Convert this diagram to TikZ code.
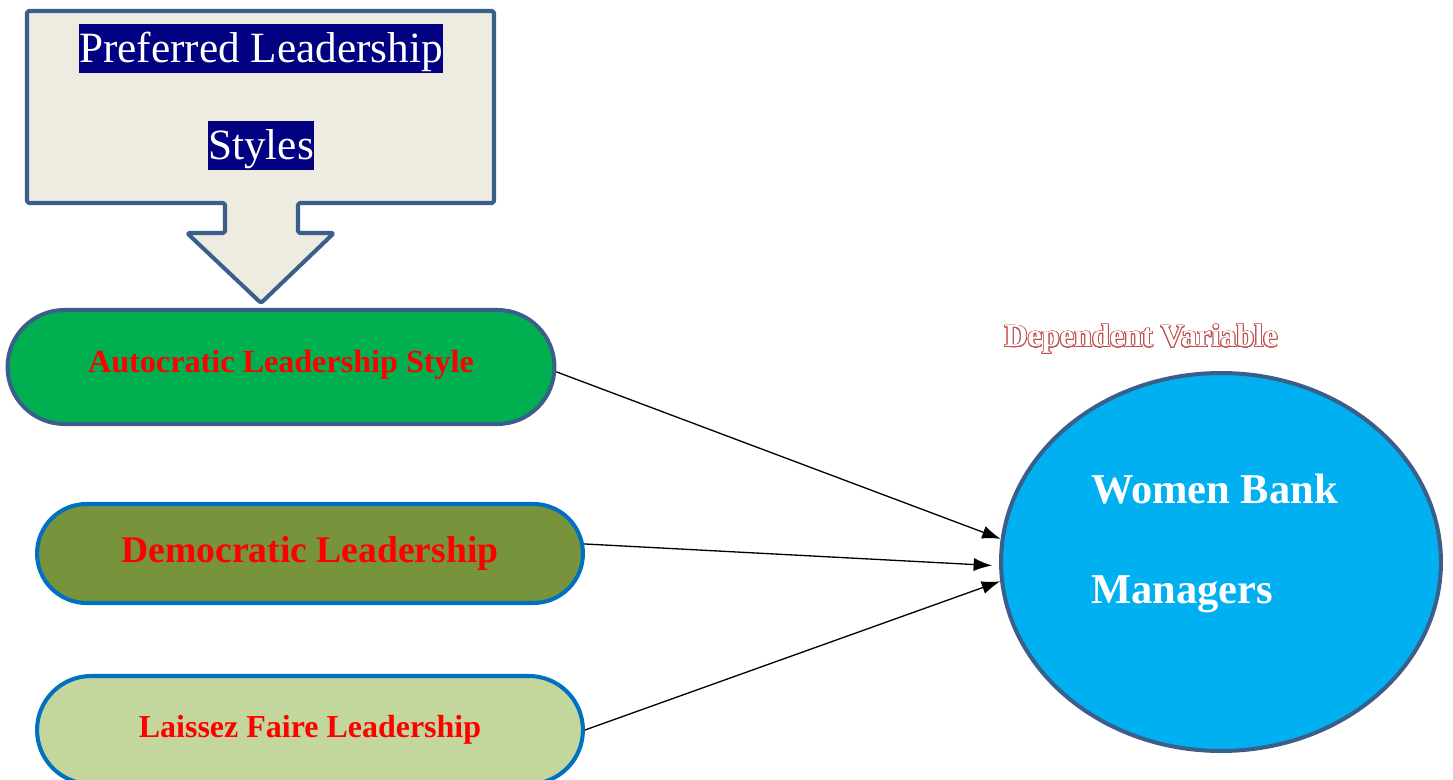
\documentclass[tikz,border=0pt]{standalone}
\usepackage{fontspec}
\setmainfont{Liberation Serif}
\usepackage{xcolor}
\usepackage{contour}
\usepackage{tikz}
\usetikzlibrary{positioning,shapes,arrows.meta}
\contourlength{0.5pt}
\contournumber{24}

\definecolor{calloutFill}{HTML}{EEECE1}
\definecolor{officeBlue}{HTML}{3A5F8B}
\definecolor{strongBlue}{HTML}{0070C0}
\definecolor{autoGreen}{HTML}{00B050}
\definecolor{oliveGreen}{HTML}{77933C}
\definecolor{paleGreen}{HTML}{C3D69B}
\definecolor{skyBlue}{HTML}{00B0F0}
\definecolor{titleNavy}{HTML}{000080}
\definecolor{depRed}{HTML}{C0504D}
\newcommand*{\navybox}[1]{{\setlength{\fboxsep}{0pt}\colorbox{titleNavy}{\rule[-0.23em]{0pt}{1.13em}#1}}}

\begin{document}
\begin{tikzpicture}[x=0.02cm, y=-0.02cm, line width=2.3pt, >={Latex[length=10.5pt,width=7.5pt]},
    pill/.style={rounded rectangle, inner sep=0pt, text=red},
    link/.style={->, line width=0.75pt, draw=black}]
    \useasboundingbox (0,0) rectangle (1453,780);

    % callout with its down arrow
    \draw[draw=officeBlue, fill=calloutFill, line join=round, rounded corners=1pt]
        (27,11) -- (494,11) -- (494,203) -- (298,203) -- (298,233) -- (334,233) -- (261,303)
        -- (187,233) -- (225,233) -- (225,203) -- (27,203) -- cycle;
    \node[text=white, align=center, font=\fontsize{24.6}{55.2}\selectfont] (prefLabel) at (261,97)
        {\navybox{Preferred Leadership}\\\navybox{Styles}};

    \node[pill, draw=officeBlue, fill=autoGreen, minimum width=10.94cm, minimum height=2.28cm,
        font=\fontsize{18.3}{22}\selectfont\bfseries] (autoStyle) at (281,367) {\raisebox{6pt}{Autocratic Leadership Style}};
    \node[pill, draw=strongBlue, fill=oliveGreen, minimum width=10.92cm, minimum height=1.98cm,
        font=\fontsize{21.4}{26}\selectfont\bfseries] (demoStyle) at (310,553.5) {Democratic Leadership};
    \node[pill, draw=strongBlue, fill=paleGreen, minimum width=10.92cm, minimum height=2.16cm,
        font=\fontsize{18.2}{22}\selectfont\bfseries] (laissezStyle) at (310,730) {\raisebox{4pt}{Laissez Faire Leadership}};

    \node[ellipse, draw=officeBlue, fill=skyBlue, inner sep=0pt, minimum width=8.8cm, minimum height=7.56cm] (wbmSet) at (1221,562) {};
    \node[anchor=west, inner sep=0pt, align=left, text=white, font=\fontsize{24.2}{56.9}\selectfont\bfseries] (wbmLabel) at (1089,543) {Women Bank\\Managers};
    \node[anchor=base, inner sep=0pt, font=\fontsize{18.3}{22}\selectfont\bfseries] (depLabel) at (1141,347)
        {\contour{depRed}{\textcolor{white}{Dependent Variable}}};

    \draw[link] (autoStyle.359) -- (wbmSet.174);
    \draw[link, shorten >=4pt] (demoStyle.2) -- (wbmSet.181);
    \draw[link] (laissezStyle.east) -- (wbmSet.185);
\end{tikzpicture}
\end{document}
